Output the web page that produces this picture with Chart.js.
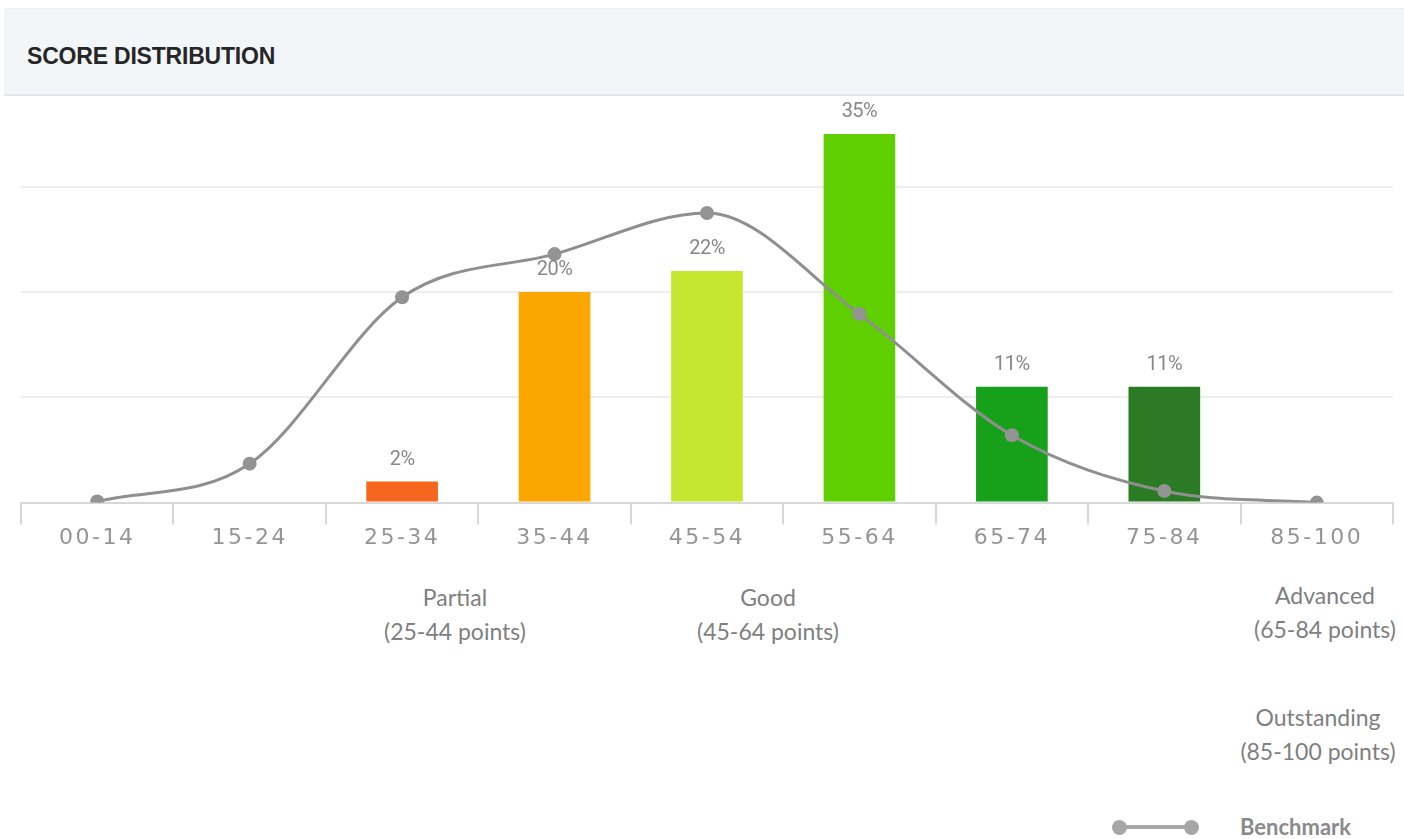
<!DOCTYPE html>
<html>
<head>
<meta charset="utf-8">
<script src="https://cdn.jsdelivr.net/npm/chart.js@4.4.1/dist/chart.umd.min.js"></script>
<style>
  html, body { margin: 0; padding: 0; background: #fff; }
  body { width: 1404px; height: 839px; position: relative; overflow: hidden; font-family: Lato, "Open Sans", sans-serif; }
  .head {
    position: absolute; left: 4px; right: 0; top: 8px; height: 85px;
    background: #f3f6f9; border-top: 1px solid #edf0f3; border-bottom: 2px solid #e1e6ec;
  }
  .head span {
    position: absolute; left: 23px; top: 34px;
    font: bold 23px "Liberation Sans", Arial, sans-serif; color: #262626; letter-spacing: -0.2px;
  }
  #wrap { position: absolute; left: 0; top: 96px; width: 1404px; height: 470px; }
  .band { position: absolute; color: #7f7f7f; font-size: 23px; line-height: 34px; text-align: center; white-space: nowrap; }
  .legend { position: absolute; left: 1110px; top: 812px; width: 300px; height: 30px; }
  .legend .ln { position: absolute; left: 8px; top: 13px; width: 72px; height: 4px; background: #a6a6a6; }
  .legend .dot { position: absolute; top: 8px; width: 15px; height: 15px; border-radius: 50%; background: #a6a6a6; }
  .legend b { position: absolute; left: 130px; top: 1px; font-size: 22px; color: #8a8a8a; }
</style>
</head>
<body>
<div class="head"><span>SCORE DISTRIBUTION</span></div>
<div id="wrap"><canvas id="chart"></canvas></div>

<div class="band" style="left:355px;width:200px;top:580px;">Partial<br>(25-44 points)</div>
<div class="band" style="left:668px;width:200px;top:580px;">Good<br>(45-64 points)</div>
<div class="band" style="left:1225px;width:200px;top:578px;">Advanced<br>(65-84 points)</div>
<div class="band" style="left:1218px;width:200px;top:700px;">Outstanding<br>(85-100 points)</div>

<div class="legend">
  <div class="ln"></div>
  <div class="dot" style="left:2px"></div>
  <div class="dot" style="left:74px"></div>
  <b>Benchmark</b>
</div>

<script>
// score bands
const ranges = ["00-14", "15-24", "25-34", "35-44", "45-54", "55-64", "65-74", "75-84", "85-100"];
// share of students (%)
const shares = [0, 0, 2, 20, 22, 35, 11, 11, 0];
// benchmark curve (%)
const benchmark = [0.1, 3.7, 19.5, 23.6, 27.5, 17.9, 6.4, 1.1, 0];
const barColors = ["#f7661f", "#f7661f", "#f7661f", "#fca600", "#c6e72f", "#5fcf00", "#17a01a", "#2b7a24", "#2b7a24"];

// percentage labels above bars
const barLabels = {
  id: "barLabels",
  afterDatasetsDraw(chart) {
    const ctx = chart.ctx;
    const meta = chart.getDatasetMeta(1);
    ctx.save();
    ctx.letterSpacing = "-0.5px";
    ctx.font = "20px Roboto, sans-serif";
    ctx.fillStyle = "#888888";
    ctx.textAlign = "center";
    ctx.textBaseline = "middle";
    meta.data.forEach((bar, i) => {
      if (!shares[i]) return;
      ctx.fillText(shares[i] + "%", bar.x, bar.y - 22);
    });
    ctx.restore();
  }
};

// wider spacing for axis labels
const spacing = {
  id: "spacing",
  beforeDraw(chart) { chart.ctx.letterSpacing = "2.5px"; }
};

new Chart(document.getElementById("chart"), {
  data: {
    labels: ranges,
    datasets: [
      {
        type: "line",
        label: "Benchmark",
        data: benchmark,
        borderColor: "#8f8f8f",
        borderWidth: 3,
        pointRadius: 7,
        pointBackgroundColor: "#939393",
        pointBorderWidth: 0,
        cubicInterpolationMode: "monotone",
        order: 0
      },
      {
        type: "bar",
        label: "Share",
        data: shares,
        backgroundColor: barColors,
        barPercentage: 0.47,
        categoryPercentage: 1,
        order: 1
      }
    ]
  },
  options: {
    responsive: true,
    maintainAspectRatio: false,
    animation: false,
    layout: { padding: { left: 21, right: 11, top: 17, bottom: 15 } },
    plugins: { legend: { display: false }, tooltip: { enabled: false } },
    scales: {
      x: {
        offset: true,
        border: { color: "#d8d8d8", width: 2 },
        grid: { offset: true, drawOnChartArea: false, drawTicks: true, tickLength: 22, color: "#d8d8d8", lineWidth: 2 },
        ticks: { autoSkip: false, maxRotation: 0, padding: 0, color: "#959595", font: { family: "DejaVu Sans", size: 22 } }
      },
      y: {
        min: 0,
        max: 37,
        border: { display: false },
        grid: {
          drawTicks: false,
          lineWidth: 2,
          color: (c) => (c.tick && c.tick.value % 10 === 0 ? "#eeeeee" : "rgba(0,0,0,0)")
        },
        ticks: { display: false, stepSize: 10 }
      }
    }
  },
  plugins: [spacing, barLabels]
});
</script>
</body>
</html>
